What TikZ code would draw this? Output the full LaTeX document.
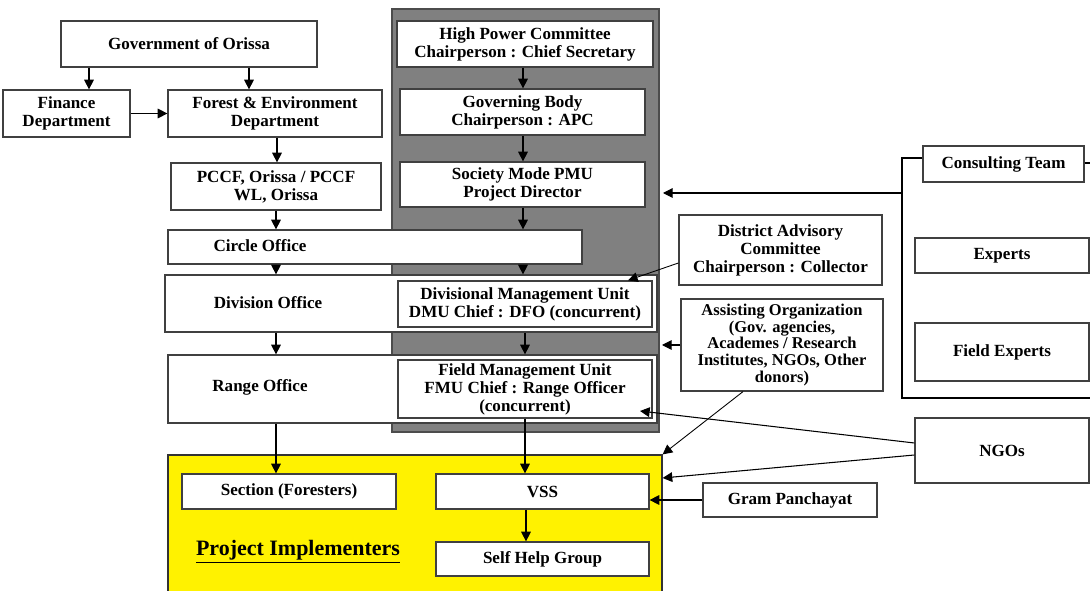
\documentclass[tikz,border=0pt]{standalone}
\usepackage{fontspec}
\setmainfont{Liberation Serif}
\usetikzlibrary{arrows.meta,fit}

\begin{document}
\begin{tikzpicture}[x=0.02cm,y=-0.02cm,
		box/.style={draw=black!75,fill=white,line width=0.7pt,inner sep=0pt},
		txt/.style={font=\fontsize{9.7}{10.2}\selectfont\bfseries,align=center,inner sep=0pt},
		arr/.style={-{Triangle[length=5.5pt,width=5.5pt]},line width=0.6pt},
		ln/.style={line width=0.6pt}]
		\useasboundingbox (0,0) rectangle (1090,591);
		
		% panels
		\node[fill=black!50,draw=black!70,line width=0.7pt,inner sep=0pt,fit={(392,9) (659,432)}] (pmupanel) {};
		\node[fill=yellow,draw=black!80,line width=0.7pt,inner sep=0pt,fit={(168,455) (662,595)}] (implement) {};
		
		% government side
		\node[box,fit={(61,21) (317,67)},label={[txt]center:Government of Orissa}] (gov) {};
		\node[box,fit={(3,90) (130,137)},label={[txt]center:Finance\\Department}] (finance) {};
		\node[box,fit={(168,90) (382,137)},label={[txt]center:Forest \& Environment\\Department}] (forest) {};
		\node[box,fit={(171,163) (381,210)},label={[txt]center:PCCF, Orissa / PCCF\\WL, Orissa}] (pccf) {};
		
		% offices (reaching into the panel)
		\node[box,fit={(168,230) (582,264)}] (circle) {};
		\node[txt] at (260,246) {Circle Office};
		\node[box,fit={(165,275) (657,332)}] (division) {};
		\node[txt] at (268,303) {Division Office};
		\node[box,fit={(168,355) (657,423)}] (range) {};
		\node[txt] at (260,387) {Range Office};
		
		% PMU column
		\node[box,fit={(397,21) (653,67)},label={[txt]center:High Power Committee\\Chairperson : Chief Secretary}] (hpc) {};
		\node[box,fit={(400,89) (645,135)},label={[txt]center:Governing Body\\Chairperson : APC}] (gbody) {};
		\node[box,fit={(400,162) (645,207)},label={[txt]center:Society Mode PMU\\Project Director}] (pmu) {};
		\node[box,fit={(398,281) (652,327)},label={[txt]center:Divisional Management Unit\\DMU Chief : DFO (concurrent)}] (dmu) {};
		\node[box,fit={(398,360) (652,418)},label={[txt]center:Field Management Unit\\FMU Chief : Range Officer\\(concurrent)}] (fmu) {};
		
		% advisers
		\node[box,fit={(679,215) (882,285)},label={[txt]center:District Advisory\\Committee\\Chairperson : Collector}] (dac) {};
		\node[box,fit={(681,299) (883,391)},label={[txt,font=\fontsize{9.4}{9.4}\selectfont\bfseries]center:Assisting Organization\\(Gov. agencies,\\Academes / Research\\Institutes, NGOs, Other\\donors)}] (assist) {};
		\node[box,fit={(923,146) (1084,182)},label={[txt]center:Consulting Team}] (consult) {};
		\node[box,fit={(915,238) (1089,273)},label={[txt]center:Experts}] (experts) {};
		\node[box,fit={(915,323) (1089,381)},label={[txt]center:Field Experts}] (fexperts) {};
		\node[box,fit={(915,418) (1089,483)},label={[txt]center:NGOs}] (ngos) {};
		\node[box,fit={(703,483) (877,517)},label={[txt]center:Gram Panchayat}] (gram) {};
		
		% implementers
		\node[box,fit={(182,474) (396,509)},label={[txt]center:Section (Foresters)}] (section) {};
		\node[box,fit={(436,474) (649,509)},label={[txt]center:VSS}] (vss) {};
		\node[box,fit={(436,542) (649,576)},label={[txt]center:Self Help Group}] (shg) {};
		\node[txt,font=\fontsize{12.5}{13}\selectfont\bfseries] (implabel) at (298,552) {\underline{Project Implementers}};
		
		% left column arrows
		\draw[arr] (89,0 |- gov.south) -- (89,0 |- finance.north);
		\draw[arr] (249,0 |- gov.south) -- (249,0 |- forest.north);
		\draw[arr] (finance) -- (forest);
		\draw[arr] (277,140 |- forest.south) -- (277,0 |- pccf.north);
		\draw[arr] (276,0 |- pccf.south) -- (276,0 |- circle.north);
		\draw[arr] (276,0 |- circle.south) -- (276,0 |- division.north);
		\draw[arr] (276,0 |- division.south) -- (276,0 |- range.north);
		\draw[arr] (276,0 |- range.south) -- (276,0 |- section.north);
		
		% PMU column arrows
		\draw[arr] (523,0 |- hpc.south) -- (523,0 |- gbody.north);
		\draw[arr] (523,0 |- gbody.south) -- (523,0 |- pmu.north);
		\draw[arr] (523,0 |- pmu.south) -- (523,0 |- circle.north);
		\draw[arr] (523,0 |- circle.south) -- (523,0 |- division.north);
		\draw[arr] (525,0 |- division.south) -- (525,0 |- range.north);
		\draw[arr] (525,0 |- fmu.south) -- (525,0 |- vss.north);
		\draw[arr] (526,512 |- vss.south) -- (526,0 |- shg.north);
		
		% consulting bracket
		\coordinate (brk) at (902,193);
		\draw[ln] (consult.west |- 0,158) -- (902,158) -- (902,398) -- (1095,398);
		\draw[ln] (consult.east |- 0,163) -- (1095,163);
		\draw[arr] (brk) -- (663,0 |- brk);
		
		% outside links
		\draw[arr,line width=0.5pt] (dac.west |- 0,263) -- (628,0 |- dmu.north);
		\draw[arr] (assist.west) -- (662,0 |- assist.west);
		\draw[arr,line width=0.5pt] (743,0 |- assist.south) -- (implement.north east);
		\draw[arr] (ngos.west |- 0,443) -- (640,411);
		\draw[arr] (ngos.west |- 0,455) -- (implement.east |- 0,478);
		\draw[arr] (gram.west) -- (vss.east |- gram.west);
	\end{tikzpicture}
\end{document}
